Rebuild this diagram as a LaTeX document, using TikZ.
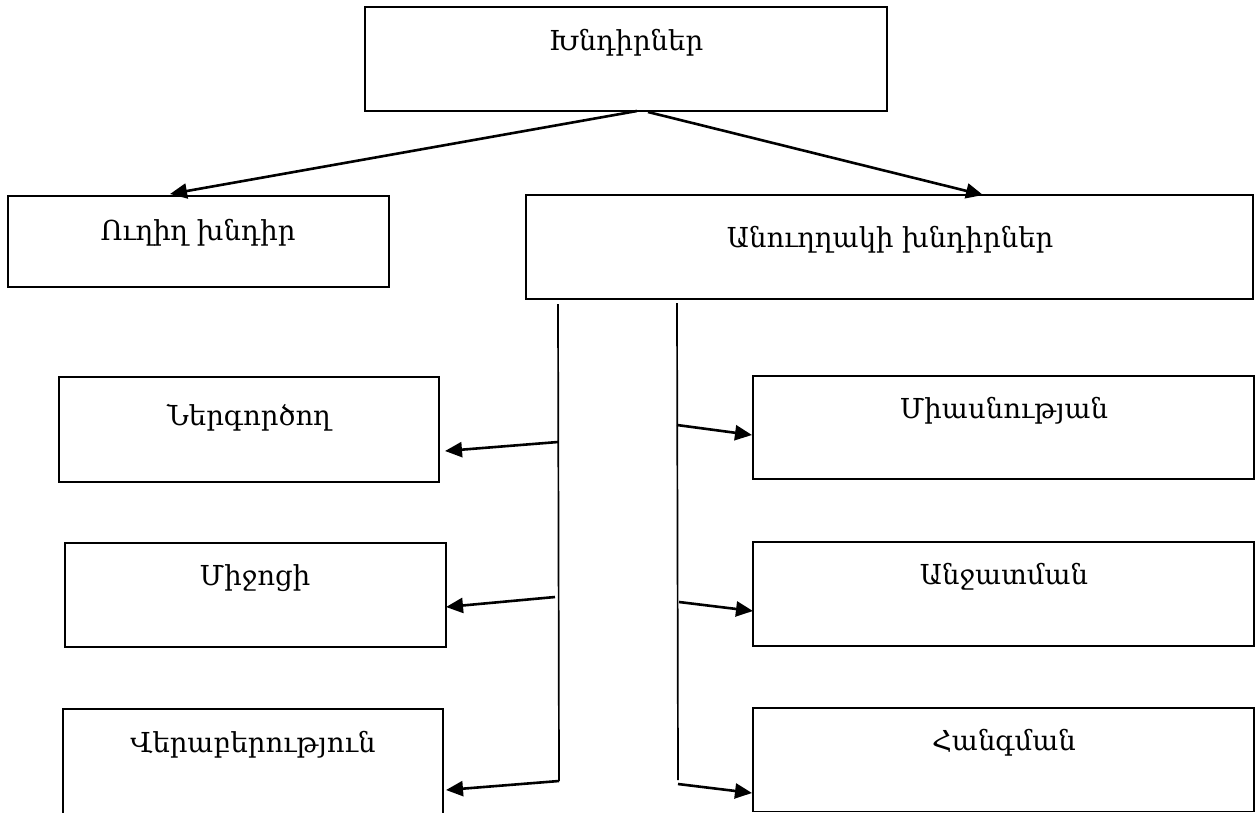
\documentclass[tikz,border=0pt]{standalone}
\usepackage{fontspec}
\newfontfamily\armfont{DejaVu Serif}
\usetikzlibrary{arrows.meta}
\begin{document}
\begin{tikzpicture}[x=1pt,y=-1pt,
  box/.style={draw=black, line width=1.3pt, rectangle, inner sep=0pt, outer sep=0pt, anchor=north west},
  lbl/.style={anchor=base, font=\armfont\fontsize{27.5}{32}\selectfont, inner sep=0pt},
  conn/.style={line width=2.6pt, -{Triangle[length=17pt,width=15pt]}},
  vline/.style={line width=1.7pt}]
\useasboundingbox (0,0) rectangle (1255,812);
\fill[white] (0,0) rectangle (1255,812);
% boxes
\node[box, minimum width=522pt, minimum height=104pt] (top) at (365,7) {};
\node[box, minimum width=381pt, minimum height=91pt] (uli) at (8,196) {};
\node[box, minimum width=727pt, minimum height=104pt] (anu) at (526,195) {};
\node[box, minimum width=380pt, minimum height=105pt] (ner) at (59,377) {};
\node[box, minimum width=381pt, minimum height=104pt] (mij) at (65,543) {};
\node[box, minimum width=380pt, minimum height=108pt] (ver) at (63,709) {};
\node[box, minimum width=501pt, minimum height=103pt] (mia) at (753,376) {};
\node[box, minimum width=501pt, minimum height=104pt] (anj) at (753,542) {};
\node[box, minimum width=501pt, minimum height=103.5pt] (han) at (753,708) {};
% labels
\node[lbl] (ttop) at (626,50) {Խնդիրներ};
\node[lbl] (tuli) at (198,240) {Ուղիղ խնդիր};
\node[lbl] (tanu) at (890,247) {Անուղղակի խնդիրներ};
\node[lbl] (tner) at (249,425) {Ներգործող};
\node[lbl] (tmij) at (255,585) {Միջոցի};
\node[lbl] (tver) at (253,752) {Վերաբերություն};
\node[lbl] (tmia) at (1004,418) {Միասնության};
\node[lbl] (tanj) at (1004,584) {Անջատման};
\node[lbl] (than) at (1004,750) {Հանգման};
% connector points
\coordinate (s1) at (637,111);
\coordinate (s2) at (648,112);
\coordinate (e1) at (170,194);
\coordinate (e2) at (983,195);
\coordinate (la) at (558,304);
\coordinate (lb) at (559,781);
\coordinate (ra) at (677,303);
\coordinate (rb) at (678,780);
\coordinate (l1) at (558,442);
\coordinate (l2) at (555,597);
\coordinate (l3) at (559,781);
\coordinate (r1) at (677,425);
\coordinate (r2) at (679,602);
\coordinate (r3) at (678,784);
\coordinate (t1) at (445,451);
\coordinate (t2) at (446,607);
\coordinate (t3) at (446,790);
\coordinate (u1) at (752,435);
\coordinate (u2) at (753,611);
\coordinate (u3) at (752,793);
% connectors
\draw[conn] (s1) -- (e1);
\draw[conn] (s2) -- (e2);
\draw[vline] (la) -- (lb);
\draw[vline] (ra) -- (rb);
\draw[conn] (l1) -- (t1);
\draw[conn] (l2) -- (t2);
\draw[conn] (l3) -- (t3);
\draw[conn] (r1) -- (u1);
\draw[conn] (r2) -- (u2);
\draw[conn] (r3) -- (u3);
\end{tikzpicture}
\end{document}
